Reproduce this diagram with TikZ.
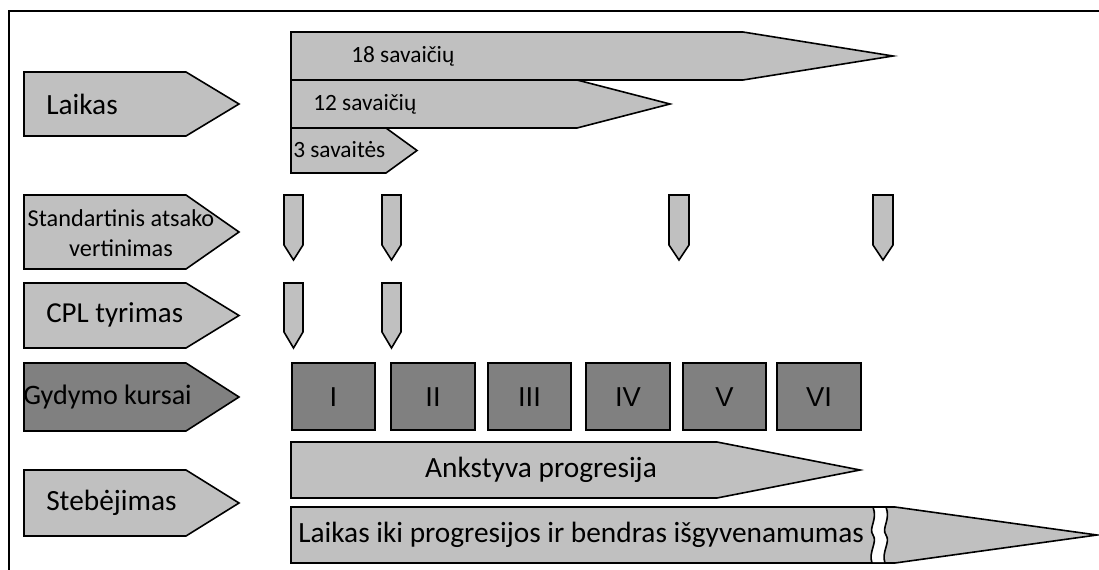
\documentclass[tikz,border=0pt]{standalone}
\usepackage{fontspec}
\setmainfont{Carlito}
\newfontfamily\numfont{Liberation Sans}
\begin{document}
\begin{tikzpicture}[x=0.75pt,y=-0.75pt,
  shapeline/.style={draw=black,line width=1.2pt,line join=miter},
  lightshape/.style={shapeline,fill=light},
  darkshape/.style={shapeline,fill=dark},
  bigtext/.style={inner sep=0pt,font=\fontsize{22}{26}\selectfont},
  midtext/.style={inner sep=0pt,font=\fontsize{18.2}{22.5}\selectfont,align=center},
  smalltext/.style={inner sep=0pt,font=\fontsize{17.5}{21}\selectfont},
  numtext/.style={inner sep=0pt,font=\numfont\fontsize{20.5}{24}\selectfont}]
\definecolor{light}{HTML}{C0C0C0}
\definecolor{dark}{HTML}{808080}
\useasboundingbox (0,0) rectangle (1099,570);
\clip (0,0) rectangle (1099,570);

% right-pointing tag: style, left x, top y, body end x, tip x, bottom y
\newcommand\tagR[6]{\draw[#1] (#2,#3) -- (#4,#3) -- (#5,{(#3+#6)/2}) -- (#4,#6) -- (#2,#6) -- cycle;}
% downward marker: left x, right x, top y, body end y, tip y
\newcommand\markD[5]{\draw[lightshape] (#1,#3) -- (#2,#3) -- (#2,#4) -- ({(#1+#2)/2},#5) -- (#1,#4) -- cycle;}

% frame
\draw[line width=1.6pt] (9,575) -- (9,11) -- (1110,11);

% row labels
\tagR{lightshape}{24}{72}{186}{239}{136}
\node[bigtext,anchor=west] (laikas) at (46,104) {Laikas};
\tagR{lightshape}{24}{195}{186}{239}{269}
\node[midtext] (vert) at (121,233) {Standartinis atsako\\vertinimas};
\tagR{lightshape}{24}{283}{186}{239}{348}
\node[bigtext,anchor=west,font=\fontsize{21.7}{26}\selectfont] (cpl) at (46,315) {CPL tyrimas};
\tagR{darkshape}{24}{363}{186}{239}{431}
\node[bigtext,anchor=west,font=\fontsize{21.1}{26}\selectfont] (kursai) at (23,397) {Gydymo kursai};
\tagR{lightshape}{24}{470}{186}{239}{536}
\node[bigtext,anchor=west] (stebejimas) at (46,503) {Stebėjimas};

% durations
\tagR{lightshape}{291}{32}{743}{893}{80}
\node[smalltext,anchor=west] (w18) at (351,56) {18 savaičių};
\tagR{lightshape}{291}{80}{577}{670}{128}
\node[smalltext,anchor=west] (w12) at (313,104) {12 savaičių};
\tagR{lightshape}{291}{128}{386}{417}{173}
\node[smalltext,anchor=west] (w3) at (293,150) {3 savaitės};

% response assessment points
\markD{284}{303}{195}{245}{260}
\markD{382}{401}{195}{245}{260}
\markD{669}{689}{195}{245}{260}
\markD{873}{893}{195}{245}{260}

% CPL points
\markD{284}{303}{283}{332}{348}
\markD{382}{401}{283}{332}{348}

% treatment courses
\foreach \n/\xa/\xb in {I/292/375, II/391/475, III/488/571, IV/586/670, V/683/766, VI/777/861}{
  \draw[darkshape] (\xa,363) rectangle (\xb,430);
  \node[numtext] (c\n) at ({(\xa+\xb)/2},397) {\n};
}

% follow-up
\tagR{lightshape}{291}{442}{717}{860}{498}
\node[bigtext] (early) at (541,470) {Ankstyva progresija};
\tagR{lightshape}{291}{507}{895}{1097}{563}
\fill[white] (873,508) .. controls (878,520) and (868,528) .. (873,535)
  .. controls (878,542) and (868,552) .. (872,562)
  -- (885,562) .. controls (881,552) and (891,542) .. (886,535)
  .. controls (881,528) and (891,520) .. (886,508) -- cycle;
\draw[line width=1.2pt] (873,507) .. controls (878,520) and (868,528) .. (873,535)
  .. controls (878,542) and (868,552) .. (872,563);
\draw[line width=1.2pt] (886,507) .. controls (891,520) and (881,528) .. (886,535)
  .. controls (891,542) and (881,552) .. (885,563);
\node[bigtext,anchor=west] (pfs) at (298,535) {Laikas iki progresijos ir bendras išgyvenamumas};
\end{tikzpicture}
\end{document}
